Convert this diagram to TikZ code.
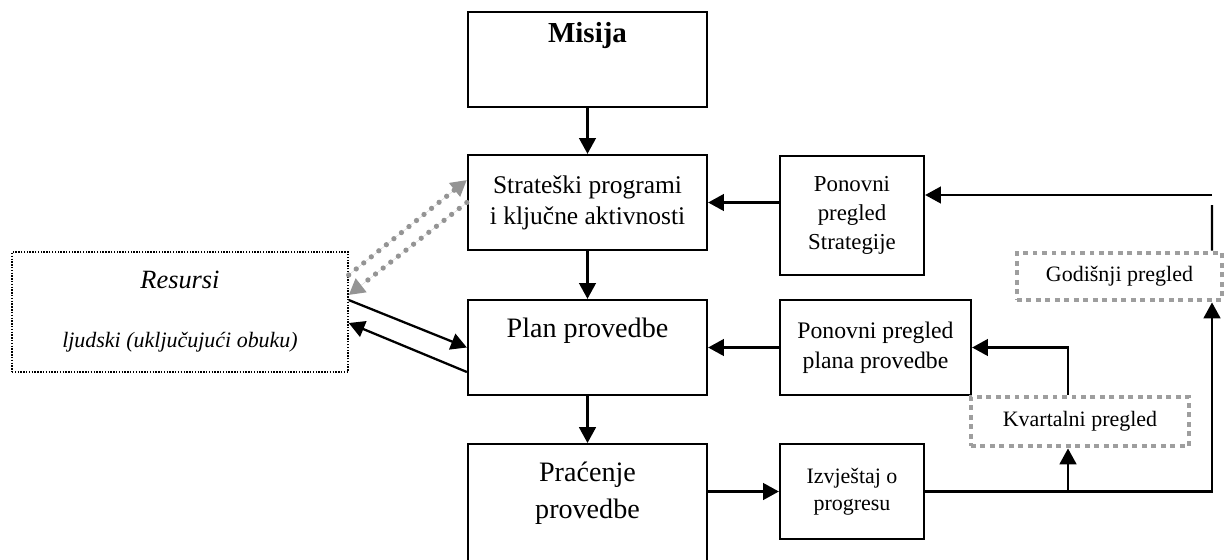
\documentclass[tikz,border=0pt]{standalone}
\usepackage{fontspec}
\setmainfont{Liberation Serif}
\usetikzlibrary{arrows.meta}

\begin{document}
\begin{tikzpicture}
        \useasboundingbox (0,0) rectangle (24.5,-11.2);
        \tikzset{kutija/.style={draw,line width=1.3pt,align=center,inner sep=0pt}}
        \tikzset{siva/.style={draw=black!38,line width=2.8pt,dash pattern=on 2.8pt off 2.6pt,align=center,inner sep=0pt}}
        \node[kutija,minimum width=4.78cm,text height=0.62cm,text depth=1.28cm,font=\fontsize{16.5}{19}\selectfont\bfseries] (M) at (11.75,-1.19) {Misija};
        \node[kutija,minimum width=4.78cm,minimum height=1.9cm,font=\fontsize{14.5}{17.5}\selectfont] (S) at (11.75,-4.05) {Strateški programi\\i ključne aktivnosti};
        \node[kutija,minimum width=4.78cm,text height=0.74cm,text depth=1.16cm,font=\fontsize{16}{19}\selectfont] (P) at (11.75,-6.95) {Plan provedbe};
        \node[kutija,minimum width=4.78cm,text height=0.74cm,text depth=2cm,anchor=north,font=\fontsize{16}{21}\selectfont] (PR) at (11.75,-8.86) {\begin{tabular}[t]{@{}c@{}}Praćenje\\provedbe\end{tabular}};
        \node[kutija,minimum width=2.88cm,minimum height=2.38cm,font=\fontsize{13}{16.5}\selectfont] (PS) at (17.04,-4.31) {Ponovni\\pregled\\Strategije};
        \node[kutija,minimum width=3.82cm,minimum height=1.9cm,font=\fontsize{13.5}{17}\selectfont] (PP) at (17.51,-6.95) {Ponovni pregled\\plana provedbe};
        \node[kutija,minimum width=2.88cm,minimum height=1.9cm,font=\fontsize{12.5}{15.5}\selectfont] (I) at (17.04,-9.83) {Izvještaj o\\progresu};
        \node[siva,minimum width=4.1cm,minimum height=0.94cm,font=\fontsize{12.5}{15}\selectfont] (G) at (22.39,-5.53) {Godišnji pregled};
        \node[siva,minimum width=4.36cm,minimum height=0.98cm,font=\fontsize{12.5}{15}\selectfont] (K) at (21.6,-8.43) {Kvartalni pregled};
        \node[draw,line width=0.8pt,dash pattern=on 0.8pt off 0.8pt,align=center,minimum width=6.72cm,minimum height=2.4cm,font=\fontsize{12.5}{15}\selectfont\itshape] (R) at (3.6,-6.24) {{\fontsize{15}{18}\selectfont Resursi}\\[18.5pt]ljudski (uključujući obuku)};
        \tikzset{strelica/.style={-{Triangle[length=9pt,width=9.5pt]},line width=1.3pt}}
        \tikzset{tocke/.style={-{Triangle[length=9pt,width=9.5pt]},draw=black!42,fill=black!42,line width=3pt,line cap=round,dash pattern=on 0pt off 5.5pt}}
        \draw[strelica] (M) -- (S);
        \draw[strelica] (S) -- (P);
        \draw[strelica] (P) -- (PR);
        \draw[strelica] ([yshift=0.26cm]PS.west) -- (S.east);
        \coordinate (gt) at ([xshift=1.85cm]G.north);
        \coordinate (gv) at (24.24,-4.1);
        \coordinate (gh) at (24.24,-3.9);
        \draw[line width=1.3pt] (gt) -- (gv);
        \draw[strelica] (gh) -- (gh -| PS.east);
        \draw[strelica] (PP) -- (P);
        \coordinate (kt) at ([xshift=-0.24cm]K.north);
        \draw[strelica] (kt) |- (PP.east);
        \draw[strelica] (PR.east |- I.west) -- (I.west);
        \coordinate (gb) at ([xshift=1.85cm]G.south);
        \draw[strelica] (I.east) -| (gb);
        \coordinate (kb) at ([xshift=-0.24cm]K.south);
        \draw[strelica] (kb |- I.east) -- (kb);
        \draw[strelica] ([yshift=0.24cm]R.east) -- (P.west);
        \draw[strelica] ([yshift=-0.49cm]P.west) -- ([yshift=-0.22cm]R.east);
        \draw[tocke] ([yshift=0.74cm]R.east) -- ([yshift=0.45cm]S.west);
        \draw[tocke] (S.west) -- ([yshift=0.34cm]R.east);
\end{tikzpicture}
\end{document}
